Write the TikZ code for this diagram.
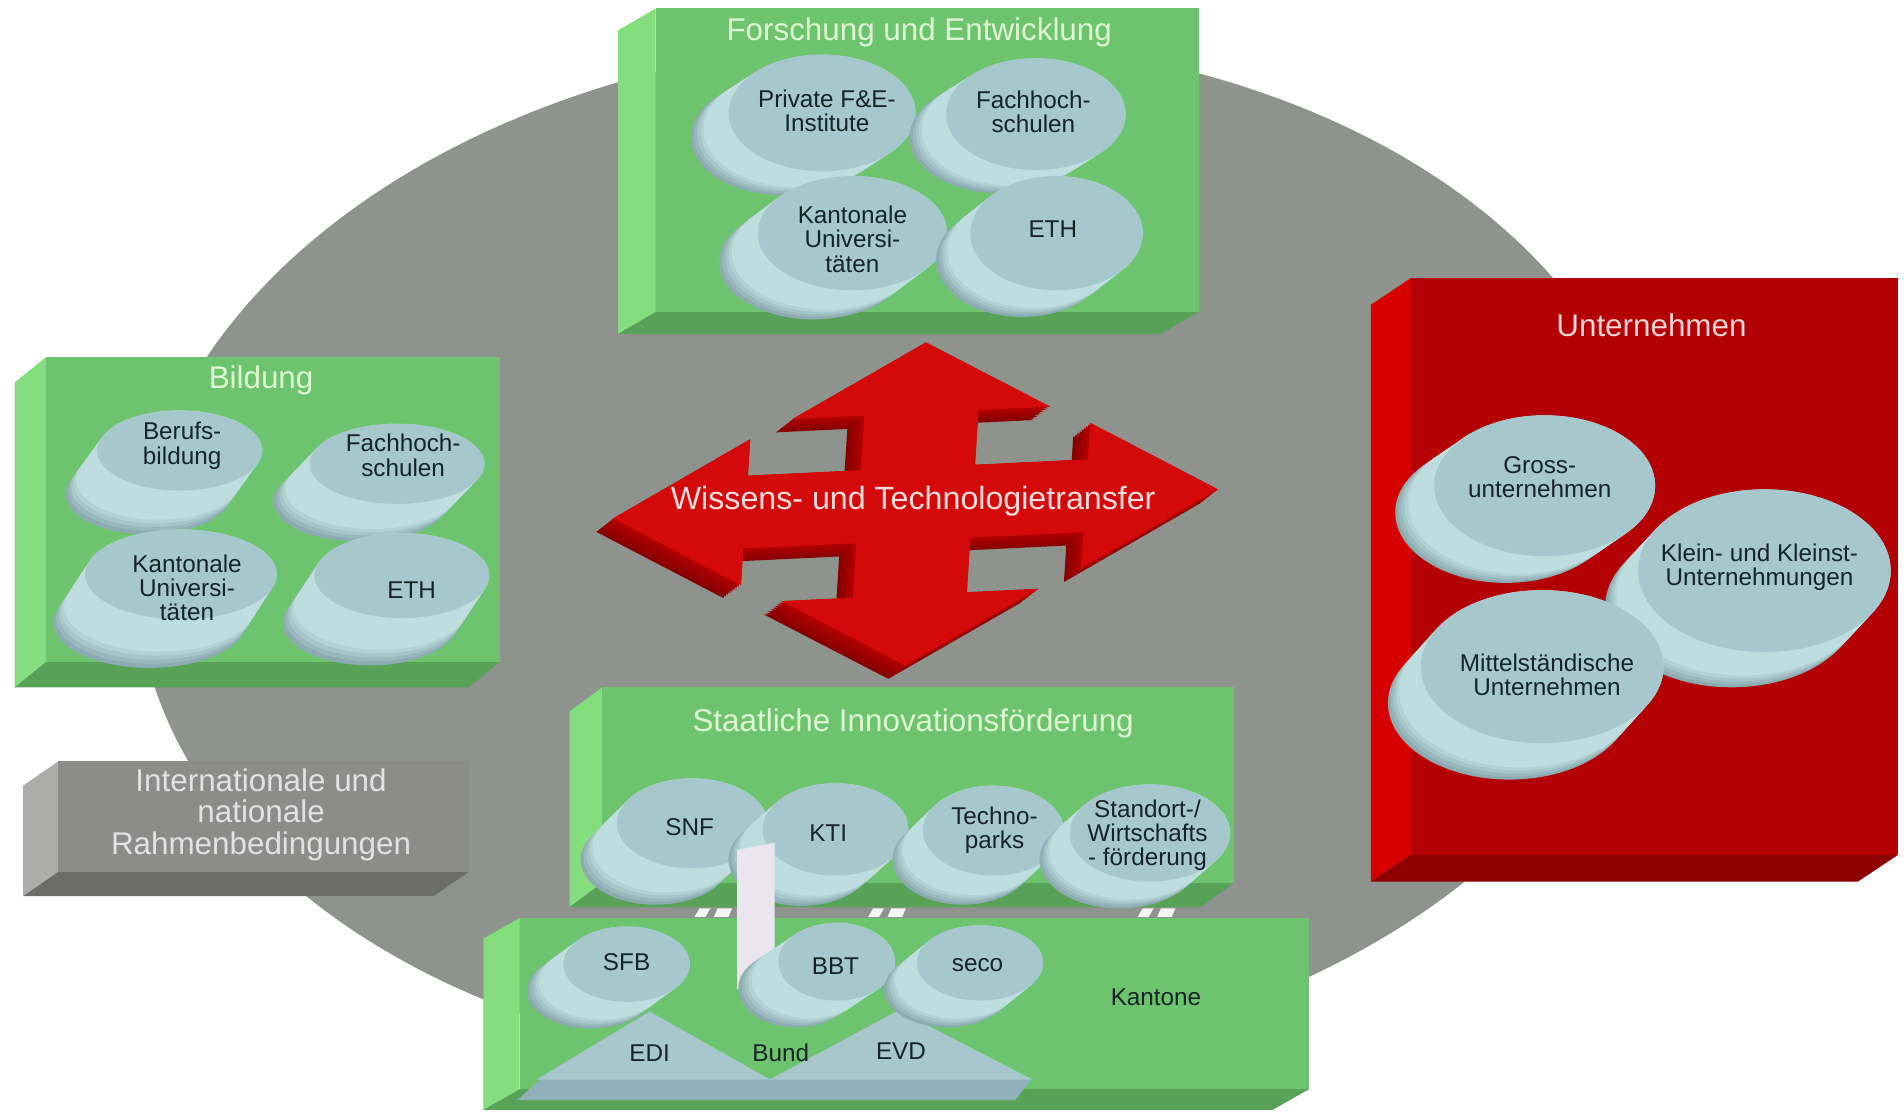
\documentclass[tikz,border=0pt]{standalone}
\usepackage{fontspec}
\setmainfont{Liberation Sans}
\definecolor{gfront}{RGB}{110,196,110}
\definecolor{gleft}{RGB}{132,222,126}
\definecolor{gbot}{RGB}{88,162,88}
\definecolor{rfront}{RGB}{178,0,4}
\definecolor{rleft}{RGB}{214,0,0}
\definecolor{rbot}{RGB}{140,0,0}
\definecolor{ifront}{RGB}{140,141,138}
\definecolor{ileft}{RGB}{172,173,170}
\definecolor{ibot}{RGB}{108,108,106}
\definecolor{blob}{RGB}{143,147,141}
\definecolor{ctop}{RGB}{166,200,204}
\definecolor{cside}{RGB}{190,221,222}
\definecolor{cdark}{RGB}{140,172,178}
\definecolor{ctext}{RGB}{22,36,40}
\definecolor{gtitle}{RGB}{222,246,212}
\definecolor{rtitle}{RGB}{246,212,212}
\definecolor{ititle}{RGB}{226,226,226}
\definecolor{afront}{RGB}{212,10,10}
\definecolor{aside}{RGB}{180,0,0}
\definecolor{adark}{RGB}{135,0,0}
\definecolor{atext}{RGB}{246,220,220}
\definecolor{triface}{RGB}{168,199,205}
\definecolor{trislab}{RGB}{146,176,186}
\definecolor{barc}{RGB}{234,229,238}
\newcommand{\boxthree}[7]{%
  \fill[#7left] (#1,#2) -- ({#1+(#5)},{#2+(#6)}) -- ({#1+(#5)},{#4+(#6)}) -- (#1,#4) -- cycle;
  \fill[#7bot] (#1,#4) -- (#3,#4) -- ({#3+(#5)},{#4+(#6)}) -- ({#1+(#5)},{#4+(#6)}) -- cycle;
  \fill[#7front] (#1,#2) rectangle (#3,#4);
}
\newcommand{\coin}[6]{%
  \foreach \k in {0,...,12}{%
    \pgfmathsetmacro{\pc}{min(100,100*\k/4)}%
    \fill[cside!\pc!cdark] ({#1+(#5)*(1-\k/12)},{#2+(#6)*(1-\k/12)}) ellipse [x radius=#3, y radius=#4];
  }
  \fill[ctop] (#1,#2) ellipse [x radius=#3, y radius=#4];
}
\tikzset{
  ttl/.style={font=\fontsize{15.5}{15.6}\selectfont, inner sep=0pt, align=center},
  dtx/.style={font=\fontsize{12}{12}\selectfont, text=ctext, inner sep=0pt, align=center},
}
\begin{document}
\begin{tikzpicture}[x=0.6pt,y=-0.6pt]
\useasboundingbox (0,0) rectangle (1568,915);
\fill[white] (0,0) rectangle (1568,915);
% grey disc
\fill[blob] plot[domain=0:357.5, samples=144, smooth cycle, variable=\t] ({738+625*(0.6934*cos(\t)+0.7217*sin(\t))},{457+425*(0.6934*cos(\t)-0.7217*sin(\t))});

% Forschung und Entwicklung
\boxthree{540}{7}{987}{257}{-31}{18}{g}
\node[ttl, text=gtitle] (tFE) at (757,27) {Forschung und Entwicklung};
\coin{677}{93}{77}{48}{-31}{20}
\node[dtx] (fePriv) at (681,91) {Private F\&E-\\Institute};
\coin{853}{94}{74}{46}{-30}{19}
\node[dtx] (feFH) at (851,92) {Fachhoch-\\schulen};
\coin{702}{192}{78}{47}{-32}{24}
\node[dtx] (feKU) at (702,197) {Kantonale\\Universi-\\täten};
\coin{870}{192}{71}{47}{-28}{22}
\node[dtx] (feETH) at (867,189) {ETH};

% Bildung
\boxthree{38}{294}{412}{545}{-26}{21}{g}
\node[ttl, text=gtitle] (tBi) at (215,313) {Bildung};
\coin{148}{371}{68}{33}{-26}{36}
\node[dtx] (biBB) at (150,367) {Berufs-\\bildung};
\coin{327}{382}{72}{33}{-30}{31}
\node[dtx] (biFH) at (332,375) {Fachhoch-\\schulen};
\coin{149}{473}{79}{37}{-26}{40}
\node[dtx] (biKU) at (154,484) {Kantonale\\Universi-\\täten};
\coin{331}{474}{72}{35}{-26}{39}
\node[dtx] (biETH) at (339,486) {ETH};

% Internationale
\boxthree{48}{627}{386}{718}{-29}{20}{i}
\node[font=\fontsize{15.5}{15.6}\selectfont, inner sep=0pt, align=center, text=ititle] (tInt) at (215,671) {Internationale und\\nationale\\Rahmenbedingungen};

% Unternehmen
\boxthree{1162}{229}{1563}{704}{-33}{22}{r}
\node[ttl, text=rtitle] (tUn) at (1360,268) {Unternehmen};
\coin{1272}{400}{91}{58}{-32}{22}
\node[dtx] (unG) at (1268,393) {Gross-\\unternehmen};
\coin{1453}{470}{104}{67}{-27}{29}
\node[dtx] (unK) at (1449,467) {Klein- und Kleinst-\\Unternehmungen};
\coin{1270}{549}{100}{63}{-27}{30}
\node[dtx] (unM) at (1274,556) {Mittelständische\\Unternehmen};

% cross arrow
\foreach \k in {0,...,8}{%
  \pgfmathsetmacro{\pc}{100*\k/8}%
  \begin{scope}[shift={({754-14+1.75*\k},{415+11-1.375*\k})}, cm={1,0.048,0.064,1,(0,0)}]
    \fill[aside!\pc!adark] (0,-133) -- (106,-75) -- (47,-75) -- (47,-30) -- (140,-30) -- (140,-60) -- (249,0) -- (140,60) -- (140,30) -- (47,30) -- (47,75) -- (106,75) -- (0,133) -- (-106,75) -- (-47,75) -- (-47,30) -- (-140,30) -- (-140,60) -- (-249,0) -- (-140,-60) -- (-140,-30) -- (-47,-30) -- (-47,-75) -- (-106,-75) -- cycle;
  \end{scope}
}
\begin{scope}[shift={(754,415)}, cm={1,0.048,0.064,1,(0,0)}]
  \fill[afront] (0,-133) -- (106,-75) -- (47,-75) -- (47,-30) -- (140,-30) -- (140,-60) -- (249,0) -- (140,60) -- (140,30) -- (47,30) -- (47,75) -- (106,75) -- (0,133) -- (-106,75) -- (-47,75) -- (-47,30) -- (-140,30) -- (-140,60) -- (-249,0) -- (-140,-60) -- (-140,-30) -- (-47,-30) -- (-47,-75) -- (-106,-75) -- cycle;
\end{scope}
\node[font=\fontsize{15.9}{16}\selectfont, inner sep=0pt, text=atext] (tWT) at (752,413) {Wissens- und Technologietransfer};

% Staatliche Innovationsfoerderung
\boxthree{496}{566}{1016}{727}{-27}{20}{g}
\node[ttl, text=gtitle] (tSI) at (752,596) {Staatliche Innovationsförderung};
\coin{570}{678}{62}{37}{-30}{30}
\node[dtx] (siSNF) at (568,681) {SNF};
\coin{688}{683}{60}{38}{-28}{25}
\node[dtx] (siKTI) at (682,686) {KTI};
\coin{818}{684}{58}{37}{-25}{24}
\node[dtx] (siTP) at (819,684) {Techno-\\parks};
\coin{947}{686}{66}{40}{-25}{22}
\node[dtx] (siSW) at (945,688) {Standort-/\\Wirtschafts\\- förderung};

% Kantone / Bund
\boxthree{428}{756}{1078}{897}{-30}{17}{g}
\fill[trislab] (446,888) -- (850,888) -- (836,906) -- (426,906) -- cycle;
\fill[triface] (442,889) -- (535,833) -- (634,889) -- cycle;
\fill[triface] (634,889) -- (740,832) -- (850,889) -- cycle;
\fill[barc] (607,700) -- (638,694) -- (638,800) -- (607,815) -- cycle;
\coin{516}{794}{52}{31}{-30}{22}
\node[dtx] (kaSFB) at (516,792) {SFB};
\coin{689}{792}{48}{32}{-33}{22}
\node[dtx] (kaBBT) at (688,796) {BBT};
\coin{807}{793}{52}{31}{-27}{22}
\node[dtx] (kaSECO) at (805,795) {seco};
\node[dtx] (kaEDI) at (535,867) {EDI};
\node[dtx] (kaBund) at (643,867) {Bund};
\node[dtx] (kaEVD) at (742,866) {EVD};
\node[dtx] (kaKant) at (952,821) {Kantone};

% small marks in the gap
\foreach \c in {587,730,952}{%
  \fill[white!92!gray] ({\c-15},755) -- ({\c-6},755) -- ({\c-2},748) -- ({\c-11},748) -- cycle;
  \fill[white!92!gray] ({\c+1},755) -- ({\c+13},755) -- ({\c+16},748) -- ({\c+4},748) -- cycle;
}
\end{tikzpicture}
\end{document}
